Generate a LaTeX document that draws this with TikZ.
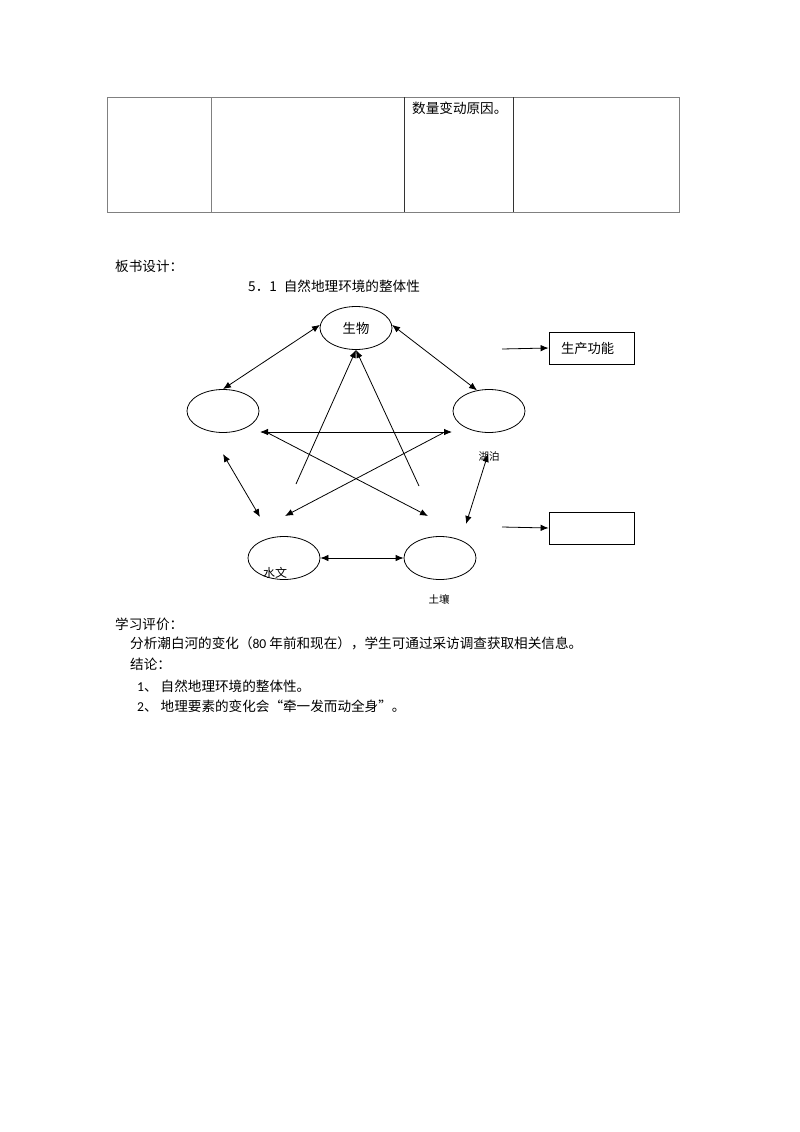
\documentclass[tikz,border=0pt]{standalone}
\usepackage{fontspec}
\setmainfont{Noto Sans CJK SC}
\newfontfamily\latinfont{Carlito}
\usetikzlibrary{shapes.geometric,arrows.meta}

\tikzstyle{element}=[draw,ellipse,line width=0.8pt,minimum width=72pt,minimum height=43pt,inner sep=0pt,font=\fontsize{13.3}{16}\selectfont]
\tikzstyle{output}=[draw,rectangle,line width=0.8pt,minimum width=85pt,minimum height=32pt,inner sep=0pt,font=\fontsize{13.3}{16}\selectfont]
\tikzstyle{textline}=[anchor=west,inner sep=0pt,font=\fontsize{13.6}{16}\selectfont]
\tikzstyle{tag}=[inner sep=0pt,font=\fontsize{10.5}{12}\selectfont]
\tikzstyle{link}=[draw,line width=0.8pt,{Latex[length=8pt,width=6.5pt]}-{Latex[length=8pt,width=6.5pt]}]
\tikzstyle{oneway}=[draw,line width=0.8pt,-{Latex[length=8pt,width=6.5pt]}]

\begin{document}
\begin{tikzpicture}[x=1pt,y=-1pt]
  \useasboundingbox[fill=white] (0,0) rectangle (800,1132);
  % The end of the table above
  \draw[gray,line width=1pt] (107,97) rectangle (679,212);
  \draw[gray,line width=1pt] (211,97) -- (211,212);
  \foreach \xpos in {404,513}
    \draw[black!80,line width=0.7pt] (\xpos,97) -- (\xpos,212);
  \node[textline] (cause) at (412,108) {数量变动原因。};

  % Headings
  \node[textline] (design) at (115,266) {板书设计：};
  \node[textline] (title) at (248,286) {5．1\hspace{7pt}自然地理环境的整体性};

  % First we draw the five elements
  \foreach \pos/\name/\la in {{(356,328)/bio/生物}, {(223,411)/climate/}, {(489,411)/lake/},
                             {(284,558)/hydro/}, {(440,558)/soil/}}
    \node[element] (\name) at \pos {\la};
  \node[tag] (laketag) at (489,457) {湖泊};
  \node[tag] (soiltag) at (439,599) {土壤};
  \node[textline,anchor=center,font=\fontsize{12}{14}\selectfont] (hydrotag) at (275,573) {水文};

  % Free ends of the connectors
  \foreach \pos/\name in {{(260,432)/hl}, {(452,432)/hr}, {(223,454)/la}, {(260,517)/lb},
                          {(488,454)/ra}, {(466,524)/rb}, {(296,484)/sl}, {(419,486)/sr},
                          {(443,433)/da}, {(285,516)/db}, {(268,433)/ea}, {(428,516)/eb},
                          {(502,349)/pa}, {(502,527)/qa}}
    \path \pos coordinate (\name);

  % Connect elements with arrows
  \path[link] (bio.175) -- (climate.north);
  \path[link] (bio.5) -- (lake.120);
  \path[link] (hydro.east) -- (soil.west);
  \foreach \source/\dest in {hl/hr, la/lb, ra/rb}
    \path[link] (\source) -- (\dest);
  \foreach \source/\dest in {sl/bio.south, sr/bio.south, da/db, ea/eb}
    \path[oneway] (\source) -- (\dest);

  % Functions on the right
  \node[output,text width=61pt] (produce) at (591.5,348) {生产功能};
  \node[output] (blank) at (591.5,528) {};
  \path[oneway] (pa) -- (produce.west);
  \path[oneway] (qa) -- (blank.west);

  % Evaluation
  \node[textline] (eval) at (115,624) {学习评价：};
  \node[textline] (task) at (130,643) {分析潮白河的变化（{\latinfont 80} 年前和现在），学生可通过采访调查获取相关信息。};
  \node[textline] (concl) at (130,664) {结论：};
  \node[textline] (one) at (137,686) {{\latinfont 1}、\ 自然地理环境的整体性。};
  \node[textline] (two) at (137,706) {{\latinfont 2}、\ 地理要素的变化会“牵一发而动全身”。};
\end{tikzpicture}
\end{document}
